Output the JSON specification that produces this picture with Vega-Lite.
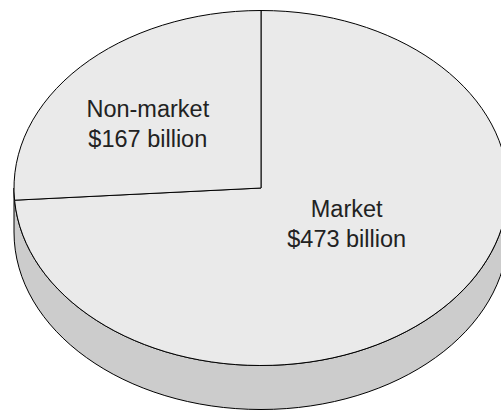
{
  "$schema": "https://vega.github.io/schema/vega-lite/v6.json",
  "width": 501,
  "height": 411,
  "autosize": "none",
  "padding": 0,
  "background": "white",
  "config": {"view": {"stroke": null}},
  "data": {
    "values": [
      {"category": "Market", "value": 473, "label": ["Market", "$473 billion"]},
      {"category": "Non-market", "value": 167, "label": ["Non-market", "$167 billion"]}
    ]
  },
  "layer": [
    {
      "transform": [{"aggregate": [{"op": "sum", "field": "value", "as": "total"}]}],
      "mark": {
        "type": "point",
        "filled": true,
        "shape": "M -236.5 -17.5 A 247 177.5 0 0 0 257.5 -17.5 L 257.5 26.5 A 247 177.5 0 0 1 -236.5 26.5 Z",
        "size": 4,
        "fill": "#cccccc",
        "stroke": "#000000",
        "strokeWidth": 1,
        "opacity": 1
      },
      "encoding": {}
    },
    {
      "mark": {
        "type": "point",
        "filled": true,
        "size": 4,
        "fill": "#eaeaea",
        "stroke": "#000000",
        "strokeWidth": 1,
        "opacity": 1
      },
      "encoding": {
        "shape": {
          "field": "category",
          "type": "nominal",
          "scale": {
            "domain": ["Market", "Non-market"],
            "range": [
              "M 10.5 -17.5 L 10.5 -195 A 247 177.5 0 1 1 -235.92 -5.3 Z",
              "M 10.5 -17.5 L 10.5 -195 A 247 177.5 0 0 0 -235.92 -5.3 Z"
            ]
          },
          "legend": null
        }
      }
    },
    {
      "transform": [{"filter": "datum.category === 'Non-market'"}],
      "mark": {
        "type": "text",
        "font": "Liberation Sans",
        "fontSize": 23.5,
        "lineHeight": 29.4,
        "color": "#222222",
        "align": "center",
        "baseline": "alphabetic",
        "dx": -102.7,
        "dy": -88.2
      },
      "encoding": {"text": {"field": "label"}}
    },
    {
      "transform": [{"filter": "datum.category === 'Market'"}],
      "mark": {
        "type": "text",
        "font": "Liberation Sans",
        "fontSize": 23.5,
        "lineHeight": 29.4,
        "color": "#222222",
        "align": "center",
        "baseline": "alphabetic",
        "dx": 96.2,
        "dy": 11.8
      },
      "encoding": {"text": {"field": "label"}}
    }
  ]
}
